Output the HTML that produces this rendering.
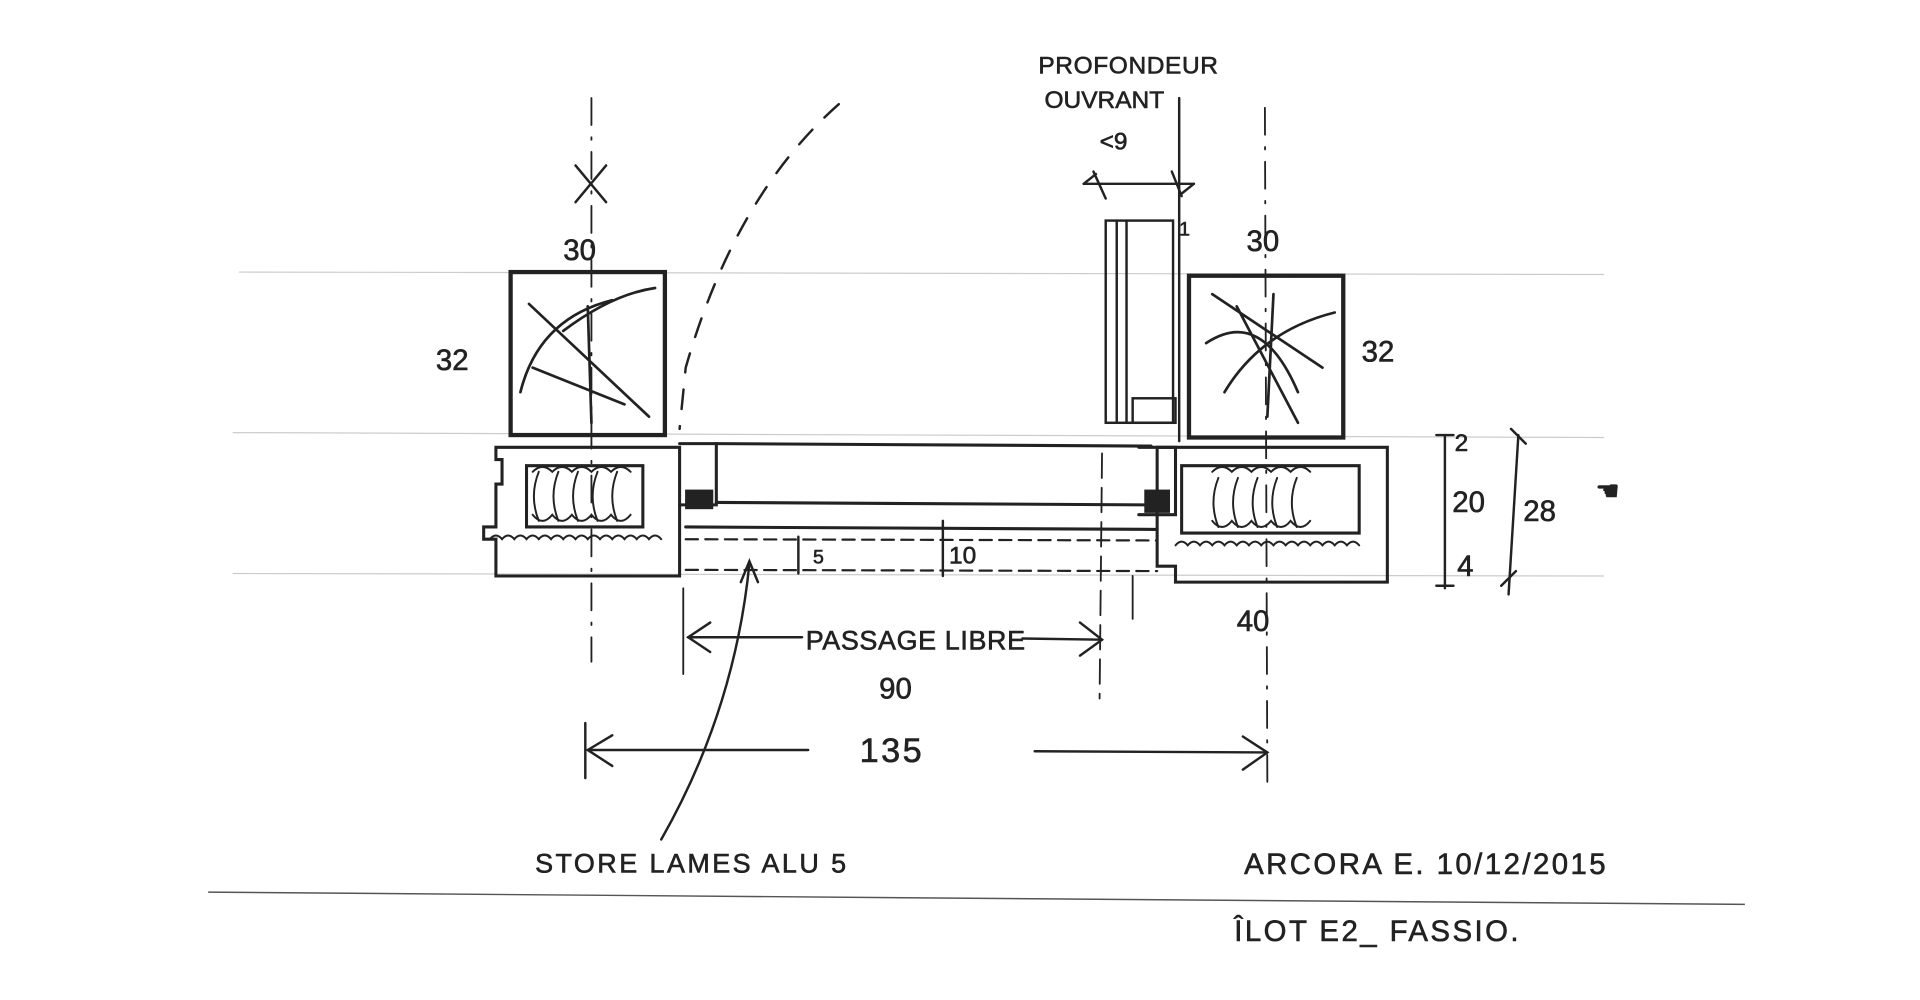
<!DOCTYPE html>
<html><head><meta charset="utf-8"><style>
html,body{margin:0;padding:0;background:#fff;width:1920px;height:1000px;overflow:hidden}
svg{display:block}
text{font-family:"Liberation Sans",sans-serif;fill:#222;stroke:#222;stroke-width:0.5}
</style></head><body>
<svg width="1920" height="1000" viewBox="0 0 1568 816" preserveAspectRatio="none">
<g stroke="#ccc" stroke-width="1">
<line x1="195" y1="222" x2="1310" y2="224"/>
<line x1="190" y1="353" x2="1310" y2="357"/>
<line x1="190" y1="468" x2="1310" y2="470"/>
</g>
<line x1="170" y1="728" x2="1425" y2="738" stroke="#555" stroke-width="1.2"/>
<g stroke="#222" fill="none" stroke-linecap="round">
<line x1="483" y1="80" x2="483" y2="540" stroke-width="1.5" stroke-dasharray="22,10,2,10"/>
<line x1="1033" y1="88" x2="1035" y2="640" stroke-width="1.5" stroke-dasharray="22,10,2,10"/>
<rect x="417" y="222" width="126" height="133" stroke-width="3.5"/>
<rect x="971" y="225" width="126" height="132" stroke-width="3.5"/>
<g stroke-width="2.2">
<path d="M432 248 L530 340 M435 300 L510 330 M460 270 Q500 240 535 235 M480 250 L483 345 M425 320 Q440 260 500 245"/>
<path d="M990 240 L1080 300 M1000 320 Q1030 270 1090 255 M1040 240 L1035 340 M985 280 Q1030 250 1060 320 M1010 250 L1060 345"/>
</g>
<path d="M685 85 Q600 160 560 300 L555 350" stroke-width="2" stroke-dasharray="16,14"/>
<rect x="903" y="180" width="55" height="165" stroke-width="2"/>
<line x1="912" y1="180" x2="912" y2="345" stroke-width="2"/>
<line x1="920" y1="180" x2="920" y2="345" stroke-width="2"/>
<rect x="925" y="325" width="35" height="20" stroke-width="2"/>
<line x1="963" y1="80" x2="963" y2="360" stroke-width="2"/>
<g stroke-width="2.5">
<path d="M405 365 H555 V470 H405 V440 H395 V430 H405 V395 H410 V375 H405 Z"/>
<path d="M430 380 H525 V430 H430 Z"/>
<path d="M555 362 H585 V412 H555"/>
<path d="M945 365 H1133 V475 H960 V462 H945 Z"/>
<path d="M965 380 H1110 V435 H965 Z"/>
<path d="M930 365 H960 V420 H930"/>
<line x1="585" y1="362" x2="940" y2="364"/>
<line x1="585" y1="410" x2="940" y2="412"/>
<line x1="560" y1="430" x2="945" y2="432"/>
</g>
<g stroke-width="1.6">
<path d="M435 385 q8 -8 16 0 q8 -8 16 0 q8 -8 16 0 q8 -8 16 0 q8 -8 16 0 M435 420 q8 10 16 0 q8 10 16 0 q8 10 16 0 q8 10 16 0 q8 10 16 0"/>
<path d="M440 425 q-8 -20 0 -40 M456 425 q-8 -20 0 -40 M472 425 q-8 -20 0 -40 M488 425 q-8 -20 0 -40 M504 425 q-8 -20 0 -40"/>
<path d="M990 385 q8 -8 16 0 q8 -8 16 0 q8 -8 16 0 q8 -8 16 0 q8 -8 16 0 M990 425 q8 10 16 0 q8 10 16 0 q8 10 16 0 q8 10 16 0 q8 10 16 0"/>
<path d="M995 430 q-8 -20 0 -40 M1011 430 q-8 -20 0 -40 M1027 430 q-8 -20 0 -40 M1043 430 q-8 -20 0 -40 M1059 430 q-8 -20 0 -40"/>
<path d="M400 440 q5 -6 10 0 q5 -6 10 0 q5 -6 10 0 q5 -6 10 0 q5 -6 10 0 q5 -6 10 0 q5 -6 10 0 q5 -6 10 0 q5 -6 10 0 q5 -6 10 0 q5 -6 10 0 q5 -6 10 0 q5 -6 10 0 q5 -6 10 0"/>
<path d="M960 445 q5 -6 10 0 q5 -6 10 0 q5 -6 10 0 q5 -6 10 0 q5 -6 10 0 q5 -6 10 0 q5 -6 10 0 q5 -6 10 0 q5 -6 10 0 q5 -6 10 0 q5 -6 10 0 q5 -6 10 0 q5 -6 10 0 q5 -6 10 0 q5 -6 10 0"/>
</g>
<rect x="560" y="400" width="22" height="15" fill="#222"/>
<rect x="935" y="400" width="20" height="18" fill="#222"/>
<g stroke-width="1.8" stroke-dasharray="10,6">
<line x1="560" y1="440" x2="945" y2="441"/>
<line x1="560" y1="465" x2="945" y2="466"/>
</g>
<line x1="558" y1="480" x2="558" y2="550" stroke-width="1.5"/>
<line x1="900" y1="370" x2="898" y2="570" stroke-width="1.5" stroke-dasharray="20,8"/>
<line x1="925" y1="470" x2="925" y2="505" stroke-width="1.5"/>
<g stroke-width="2">
<line x1="562" y1="520" x2="655" y2="520"/><path d="M580 508 L562 520 L580 532"/>
<line x1="835" y1="521" x2="900" y2="522"/><path d="M882 508 L900 522 L882 535"/>
<line x1="480" y1="612" x2="660" y2="612"/><path d="M500 600 L480 612 L500 625"/>
<line x1="478" y1="590" x2="478" y2="635"/>
<line x1="845" y1="613" x2="1035" y2="614"/><path d="M1015 601 L1035 614 L1015 628"/>
<path d="M540 685 Q600 580 612 460"/><path d="M605 475 L612 458 L619 475"/>
<line x1="1180" y1="355" x2="1180" y2="480"/>
<line x1="1240" y1="355" x2="1232" y2="485"/>
<path d="M1173 355 h14 M1173 478 h14 M1234 350 l12 12 M1226 478 l12 -12"/>
<line x1="885" y1="150" x2="975" y2="150"/>
<path d="M885 150 l10 -8 M975 150 l-10 8 M893 140 l10 22 M957 140 l8 20"/>
<path d="M652 438 v30 M770 425 v45"/>
<path d="M470 135 l25 30 M495 135 l-25 30"/>
</g>
</g>
<g font-size="24">
<text x="460" y="212">30</text>
<text x="1018" y="205">30</text>
<text x="356" y="302">32</text>
<text x="1112" y="295">32</text>
<text x="1010" y="515">40</text>
<text x="1188" y="368" font-size="20">2</text>
<text x="1186" y="418">20</text>
<text x="1244" y="425">28</text>
<text x="1190" y="470">4</text>
<text x="775" y="460" font-size="20">10</text>
<text x="664" y="460" font-size="16">5</text>
<text x="718" y="570">90</text>
<text x="702" y="622" font-size="28" letter-spacing="2">135</text>
<text x="898" y="122" font-size="20">&lt;9</text>
<text x="963" y="192" font-size="16">1</text>
<text x="658" y="530" font-size="22" letter-spacing="0.5">PASSAGE LIBRE</text>
<text x="848" y="60" font-size="20" letter-spacing="0.5">PROFONDEUR</text>
<text x="853" y="88" font-size="20">OUVRANT</text>
<text x="437" y="712" font-size="22" letter-spacing="2">STORE LAMES ALU 5</text>
<text x="1016" y="713" font-size="24" letter-spacing="2">ARCORA E. 10/12/2015</text>
<text x="1008" y="768" font-size="24" letter-spacing="2">ÎLOT E2_ FASSIO.</text>
<text x="1303" y="408" font-size="22" stroke="none" fill="#222">☚</text>
</g>
</svg>
</body></html>
